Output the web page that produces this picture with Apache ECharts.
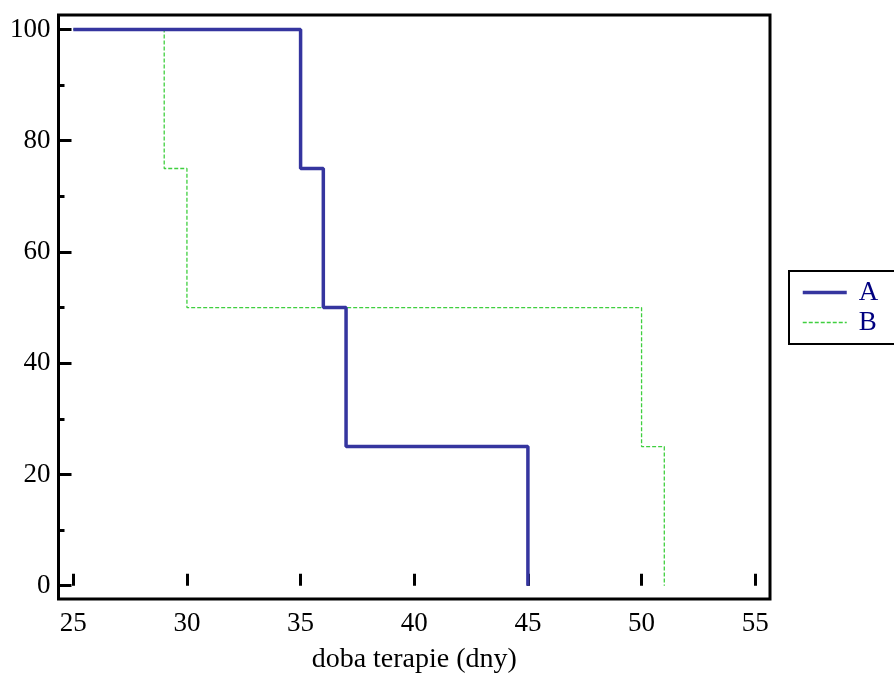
<!DOCTYPE html>
<html>
<head>
<meta charset="utf-8">
<script src="https://cdn.jsdelivr.net/npm/echarts@6/dist/echarts.min.js"></script>
<style>
  html, body { margin: 0; padding: 0; background: #fff; }
  #chart { width: 894px; height: 679px; }
</style>
</head>
<body>
<div id="chart"></div>
<script>
// Survival curves (step functions) for two groups over therapy duration
const seriesNames = ['A', 'B'];
const daysA = [25, 35, 36, 37, 45];
const survivalA = [100, 75, 50, 25, 0];
const daysB = [25, 29, 30, 50, 51];
const survivalB = [100, 75, 50, 25, 0];
const xTicks = [25, 30, 35, 40, 45, 50, 55];
const yTicks = [0, 20, 40, 60, 80, 100];
const yMinorTicks = [10, 30, 50, 70, 90];
const xAxisTitle = 'doba terapie (dny)';

const pairs = (xs, ys) => xs.map((x, i) => [x, ys[i]]);
const font = 'Liberation Serif, Times New Roman, serif';
const fontSize = 27;
const styleA = { color: '#35359f', width: 3.5 };
const styleB = { color: '#3fcf3f', width: 1.3, type: [4, 2] };

const grid = { left: 58.5, right: 124, top: 15, bottom: 73 };

const chart = echarts.init(document.getElementById('chart'), null, { renderer: 'canvas' });
chart.setOption({
  animation: false,
  backgroundColor: '#fff',
  grid: Object.assign({ show: true, borderColor: '#000', borderWidth: 3, backgroundColor: 'transparent' }, grid),
  legend: {
    orient: 'vertical',
    left: 789,
    top: 271,
    padding: [8, 40, 8, 12],
    itemGap: 3,
    itemWidth: 44,
    itemHeight: 14,
    borderColor: '#000',
    borderWidth: 2,
    backgroundColor: '#fff',
    itemStyle: { opacity: 0 },
    textStyle: { fontFamily: font, fontSize: fontSize, lineHeight: 27, color: '#000080', padding: [0, 0, 0, 7] },
    data: [
      { name: seriesNames[0], lineStyle: styleA },
      { name: seriesNames[1], lineStyle: styleB }
    ]
  },
  xAxis: {
    type: 'value',
    min: 24.35,
    max: 55.65,
    name: xAxisTitle,
    nameLocation: 'middle',
    nameGap: 47,
    nameTextStyle: { fontFamily: font, fontSize: 28, color: '#000' },
    axisLine: { show: false },
    splitLine: { show: false },
    axisTick: { show: true, inside: true, length: 12, customValues: xTicks, lineStyle: { color: '#000', width: 3 } },
    axisLabel: { customValues: xTicks, margin: 11, fontFamily: font, fontSize: fontSize, color: '#000' }
  },
  yAxis: [{
    type: 'value',
    min: -2.4,
    max: 102.6,
    axisLine: { show: false },
    splitLine: { show: false },
    axisTick: { show: true, inside: true, length: 13, customValues: yTicks, lineStyle: { color: '#000', width: 3 } },
    axisLabel: { customValues: yTicks, margin: 8, fontFamily: font, fontSize: fontSize, color: '#000' }
  }, {
    type: 'value',
    position: 'left',
    min: -2.4,
    max: 102.6,
    axisLine: { show: false },
    splitLine: { show: false },
    axisTick: { show: true, inside: true, length: 6, customValues: yMinorTicks, lineStyle: { color: '#000', width: 3 } },
    axisLabel: { show: false }
  }],
  series: [{
    name: seriesNames[0],
    type: 'line',
    step: 'end',
    symbol: 'none',
    data: pairs(daysA, survivalA),
    lineStyle: styleA,
    itemStyle: { color: styleA.color },
    z: 3
  }, {
    name: seriesNames[1],
    type: 'line',
    step: 'end',
    symbol: 'none',
    data: pairs(daysB, survivalB),
    lineStyle: styleB,
    itemStyle: { color: styleB.color },
    z: 2
  }]
});
</script>
</body>
</html>
